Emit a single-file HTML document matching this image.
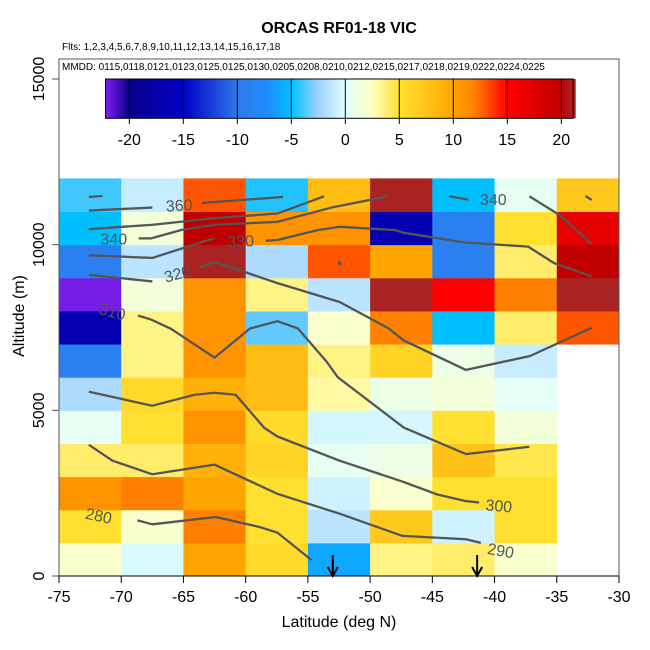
<!DOCTYPE html>
<html><head><meta charset="utf-8">
<style>
html,body{margin:0;padding:0;background:#fff;}
svg{display:block;font-family:"Liberation Sans",sans-serif;}
</style></head>
<body>
<svg id="chart" width="650" height="650" viewBox="0 0 650 650"></svg>
<script>
// ---- data ----
const latEdges = [-75,-70,-65,-60,-55,-50,-45,-40,-35,-30];
const altEdges = [0,1000,2000,3000,4000,5000,6000,7000,8000,9000,10000,11000,12000];
// rows bottom (0-1km) to top (11-12km); columns -75..-30
const row0  = [2,-0.3,10,5.5,-6,3.5,4,2,null];
const row1  = [5,2,12,5,-1.5,7,-0.7,5,null];
const row2  = [11,12,10,5,-0.7,2,5,5,null];
const row3  = [4,4,9,6,0.5,1,7.5,4.5,null];
const row4  = [0.5,5,11,5.5,-0.5,-0.5,5,1.5,null];
const row5  = [-2,5.5,9,8,3,1,1.5,0.3,null];
const row6  = [-9,3.5,11,8,3.5,6,1,-1,null];
const row7  = [-17,3.5,11,-3.5,2,12,-5,4,13];
const row8  = [-22,1.5,11,3.5,-1.5,21,15,12,21];
const row9  = [-9,-1.5,21,-2,13,10,-9,4,20];
const row10 = [-5,1.5,20,11,11,-17,-9,5,17];
const row11 = [-4,-1,13,-4.5,8,21,-5,0.5,7];
const gridRows = [row0,row1,row2,row3,row4,row5,row6,row7,row8,row9,row10,row11];
const xTicks = [-75,-70,-65,-60,-55,-50,-45,-40,-35,-30];
const yTicks = [0,5000,10000,15000];
const cbTicks = [-20,-15,-10,-5,0,5,10,15,20];
// contours [lat, alt]
const contours = [
 [[-72.6,11440],[-71.5,11470]],
 [[-72.6,11030],[-67.5,11120]],
 [[-63.5,11260],[-57.0,11440]],
 [[-72.6,10470],[-67.45,10600],[-62.5,10800],[-57.45,10940],[-53.7,11460]],
 [[-68.6,10190],[-67.6,10190],[-65.1,10450],[-62.5,10600],[-57.45,10690],[-53.1,11120],[-48.55,11460]],
 [[-43.65,11460],[-42.1,11360]],
 [[-37.2,11460],[-34.8,10900],[-32.2,10030]],
 [[-32.7,11470],[-32.2,11350]],
 [[-72.6,9680],[-67.5,9600],[-62.5,10200]],
 [[-58.4,10120],[-57.45,10140],[-54.2,10440],[-52.45,10540],[-48.0,10440],[-47.3,10360],[-42.45,10070],[-37.3,9940],[-35.2,9440],[-32.2,9040]],
 [[-72.6,9090],[-67.5,8890]],
 [[-63.7,9320],[-62.4,9470],[-57.45,8840],[-52.45,8270],[-48.5,7470],[-47.3,7110],[-42.3,6220],[-37.15,6640],[-32.2,7490]],
 [[-68.65,7860],[-67.6,7740],[-66.0,7460],[-62.5,6590],[-59.65,7470],[-57.45,7690],[-55.8,7470],[-53.5,6470],[-52.6,6000],[-47.3,4480],[-42.3,3680],[-37.2,3900]],
 [[-72.6,5560],[-67.5,5140],[-64.1,5470],[-62.5,5530],[-60.8,5470],[-58.5,4470],[-57.45,4210],[-52.45,3480],[-47.4,2850],[-44.6,2460],[-42.3,2260],[-41.25,2220]],
 [[-72.6,3960],[-70.7,3480],[-67.5,3070],[-62.5,3360],[-57.45,2480],[-52.45,1880],[-47.4,1210],[-42.3,1110],[-41.1,1000]],
 [[-68.7,1680],[-67.5,1560],[-62.4,1780],[-58.9,1480],[-57.45,1310],[-54.7,480]]
];
const contourLabels = ["360","340","330","320","310","340","300","290","280"];
const labelLat = [-65.35,-70.6,-60.4,-65.5,-70.7,-40.1,-39.65,-39.5,-71.8];
const labelAlt = [11200,10180,10120,9130,7990,11380,2130,780,1830];
const labelRot = [-3,0,-3,-15,15,0,5,10,12];
const arrowLats = [-53.0,-41.4];

// ---- scales ----
const X0=59,X1=619,Y0=576,Y1=79;
const xs = v => X0 + (v+75)/45*(X1-X0);
const ys = v => Y0 - v/15000*(Y0-Y1);
const CB0=105.3, CBU=10.8, CBZ=345.3;
const cbx = v => CBZ + v*CBU;
const stops=[[-22.2,[128,32,240]],[-20,[10,0,140]],[-15,[0,0,200]],[-10,[48,120,232]],[-7,[30,144,255]],[-5,[0,191,255]],[-2.5,[160,210,255]],[0,[224,255,255]],[2.5,[255,255,192]],[5,[255,224,48]],[10,[255,165,0]],[12,[255,128,0]],[15,[255,0,0]],[20,[192,0,0]],[21.2,[165,42,42]]];
function col(v){
  if(v<=stops[0][0]) return rgb(stops[0][1]);
  for(let i=1;i<stops.length;i++){
    if(v<=stops[i][0]){const a=stops[i-1],b=stops[i];const t=(v-a[0])/(b[0]-a[0]);
      return rgb(a[1].map((c,k)=>c+(b[1][k]-c)*t));}
  }
  return rgb(stops[stops.length-1][1]);
}
function rgb(a){return 'rgb('+a.map(Math.round).join(',')+')';}

const NS='http://www.w3.org/2000/svg';
const svg=document.getElementById('chart');
function mk(tag,attrs,parent){const e=document.createElementNS(NS,tag);for(const k in attrs)e.setAttribute(k,attrs[k]);(parent||svg).appendChild(e);return e;}

// cells
const cells=mk('g',{});


gridRows.forEach((row,r)=>{row.forEach((v,c)=>{ if(v===null) return;
  const x=xs(latEdges[c]), x2=xs(latEdges[c+1]), y=ys(altEdges[r+1]), y2=ys(altEdges[r]);
  const rc=mk('rect',{x:x,y:y,width:x2-x+0.5,height:y2-y+0.5,fill:col(v)},cells);
  
  
});});

// contours
const cg=mk('g',{stroke:'#555',fill:'none','stroke-width':2.3,'stroke-linejoin':'round'});


contours.forEach(line=>{
  const p=mk('polyline',{points:line.map(q=>xs(q[0])+','+ys(q[1])).join(' ')},cg);
  
  
});
mk('circle',{cx:xs(-52.45),cy:ys(9440),r:2,fill:'#555'});
contourLabels.forEach((t,i)=>{
  const x=xs(labelLat[i]),y=ys(labelAlt[i]);
  const e=mk('text',{x:x,y:y+6,'text-anchor':'middle','font-size':16,fill:'#555',transform:'rotate('+labelRot[i]+' '+x+' '+y+')'});
  e.textContent=t;
  
  
});
// arrows
arrowLats.forEach(a=>{
  const x=xs(a);
  const g=mk('g',{stroke:'#000','stroke-width':2,fill:'none'});
  
  
  mk('line',{x1:x,y1:555,x2:x,y2:576},g);
  mk('polyline',{points:(x-5)+',567 '+x+',576 '+(x+5)+',567'},g);
});

// frame
const fr=mk('rect',{x:59,y:59,width:560,height:517,fill:'none',stroke:'#555','stroke-width':1});


mk('line',{x1:59,y1:576,x2:619,y2:576,stroke:'#000'});

// x ticks
xTicks.forEach(v=>{
  const x=xs(v);
  mk('line',{x1:x,y1:576,x2:x,y2:583,stroke:'#000'});
  const t=mk('text',{x:x,y:602,'text-anchor':'middle','font-size':16});
  t.textContent=v;
  
  
});
yTicks.forEach(v=>{
  const y=ys(v);
  mk('line',{x1:52,y1:y,x2:59,y2:y,stroke:'#555'});
  const t=mk('text',{x:44,y:y,'text-anchor':'middle','font-size':16,transform:'rotate(-90 44 '+y+')'});
  t.textContent=v;
  
  
});

// colorbar
const cb=mk('g',{});


const cbL=-22.2, cbR=21.1;
for(let v=cbL; v<cbR; v+=0.25){
  mk('rect',{x:cbx(v),y:79,width:CBU*0.25+0.4,height:39.3,fill:col(v+0.125)},cb);
}
mk('rect',{x:cbx(cbL),y:79,width:cbx(cbR)-cbx(cbL),height:39.3,fill:'none',stroke:'#000'},cb);
cbTicks.forEach(v=>{
  const x=cbx(v);
  mk('line',{x1:x,y1:79,x2:x,y2:124,stroke:'#000'},cb);
  const t=mk('text',{x:x,y:145,'text-anchor':'middle','font-size':16},cb);
  t.textContent=v;
  
  
});
</script>
<svg width="0" height="0" style="position:absolute"></svg>
<div style="position:absolute;left:0;top:0;width:650px;height:650px;pointer-events:none;font-family:'Liberation Sans',sans-serif;">
  <div style="position:absolute;left:0;width:678px;top:20px;text-align:center;font-weight:bold;font-size:16px;">ORCAS RF01-18 VIC</div>
  <div style="position:absolute;left:62px;top:42px;font-size:10px;">Flts: 1,2,3,4,5,6,7,8,9,10,11,12,13,14,15,16,17,18</div>
  <div style="position:absolute;left:62px;top:62px;font-size:10px;">MMDD: 0115,0118,0121,0123,0125,0125,0130,0205,0208,0210,0212,0215,0217,0218,0219,0222,0224,0225</div>
  <div style="position:absolute;left:0;width:678px;top:614px;text-align:center;font-size:16px;">Latitude (deg N)</div>
  <div style="position:absolute;left:-80px;top:307px;width:200px;text-align:center;font-size:16px;transform:rotate(-90deg);">Altitude (m)</div>
</div>
</body></html>
